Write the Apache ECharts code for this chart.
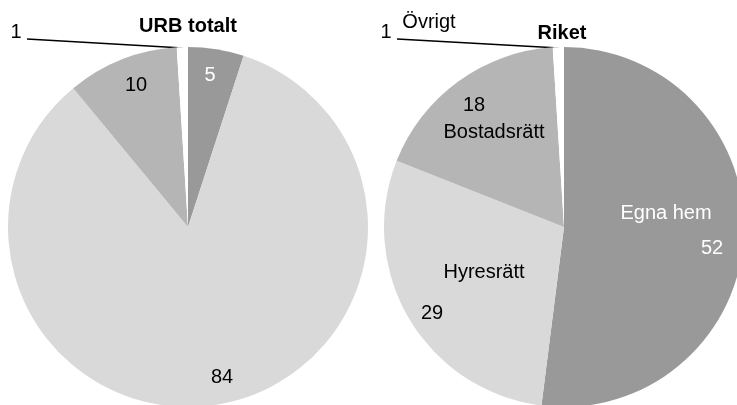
<!DOCTYPE html>
<html><head><meta charset="utf-8">
<script src="https://cdn.jsdelivr.net/npm/echarts@6/dist/echarts.min.js"></script>
<style>html,body{margin:0;padding:0;background:#fff}#c{width:737px;height:405px}</style>
</head><body><div id="c"></div>
<script>
const categories = ['Egna hem', 'Hyresrätt', 'Bostadsrätt', 'Övrigt'];
const urbValues = [5, 84, 10, 1];
const riketValues = [52, 29, 18, 1];
const titles = ['URB totalt', 'Riket'];

const sliceColors = ['#999999', '#d9d9d9', '#b5b5b5', '#ffffff'];
const valueLabelColors = ['#ffffff', '#000000', '#000000', '#000000'];
const nameLabelColors = ['#ffffff', '#000000', '#000000', '#000000'];

// label anchor positions (layout only)
const urbLabelPos = [[210, 75], [222, 377], [136, 85], [16, 32]];
const riketValuePos = [[712, 248], [432, 313], [474, 105], [386, 32]];
const riketNamePos = [[666, 213], [484, 272], [494, 132], [429, 22]];
const urbLine = [[27, 39], [183, 48]];
const riketLine = [[397, 39], [559, 48]];

const FONT = 'Liberation Sans, Arial, sans-serif';

function mkData(vals, labelColors, transparent) {
  return vals.map((v, i) => ({
    name: categories[i],
    value: v,
    itemStyle: { color: transparent ? 'rgba(0,0,0,0)' : sliceColors[i] },
    label: { color: labelColors[i] },
    labelLine: { show: !transparent && i === 3 }
  }));
}

function layoutFn(pos, line) {
  return function (p) {
    const i = p.dataIndex;
    const o = { x: pos[i][0], y: pos[i][1], align: 'center', verticalAlign: 'middle' };
    if (line && i === 3) o.labelLinePoints = line;
    return o;
  };
}

const baseSeries = {
  type: 'pie',
  radius: 180,
  startAngle: 90,
  clockwise: true,
  avoidLabelOverlap: false,
  animation: false,
  emphasis: { disabled: true },
  itemStyle: { borderWidth: 0 },
  label: { show: true, position: 'outside', fontSize: 20, fontFamily: FONT },
  labelLine: { show: true, length: 5, length2: 5, lineStyle: { color: '#000', width: 1.5 } }
};

const chart = echarts.init(document.getElementById('c'), null, { renderer: 'canvas' });
chart.setOption({
  backgroundColor: '#ffffff',
  animation: false,
  graphic: [
    { type: 'text', x: 188, y: 26, style: { text: titles[0], fontSize: 20, fontWeight: 'bold', fontFamily: FONT, fill: '#000', align: 'center', verticalAlign: 'middle' } },
    { type: 'text', x: 562, y: 33, style: { text: titles[1], fontSize: 20, fontWeight: 'bold', fontFamily: FONT, fill: '#000', align: 'center', verticalAlign: 'middle' } }
  ],
  series: [
    Object.assign({}, baseSeries, {
      center: [188, 227],
      data: mkData(urbValues, valueLabelColors, false),
      label: Object.assign({}, baseSeries.label, { formatter: '{c}' }),
      labelLayout: layoutFn(urbLabelPos, urbLine)
    }),
    Object.assign({}, baseSeries, {
      center: [564, 227],
      data: mkData(riketValues, valueLabelColors, false),
      label: Object.assign({}, baseSeries.label, { formatter: '{c}' }),
      labelLayout: layoutFn(riketValuePos, riketLine)
    }),
    Object.assign({}, baseSeries, {
      center: [564, 227],
      silent: true,
      z: 3,
      data: mkData(riketValues, nameLabelColors, true),
      label: Object.assign({}, baseSeries.label, { formatter: '{b}' }),
      labelLine: { show: false },
      labelLayout: layoutFn(riketNamePos, null)
    })
  ]
});
</script>
</body></html>
